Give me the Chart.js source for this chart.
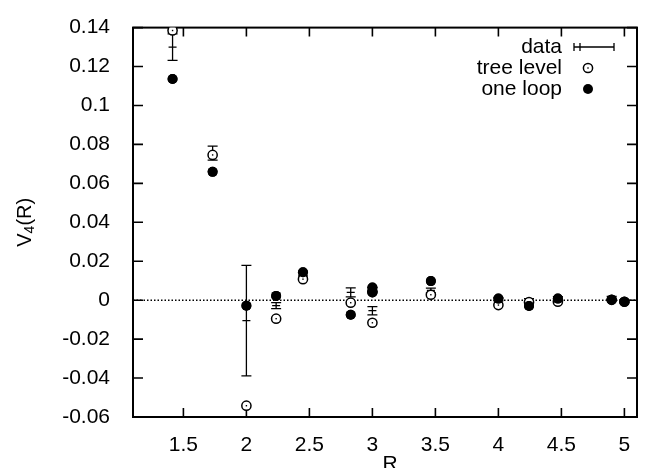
<!DOCTYPE html>
<html>
<head>
<meta charset="utf-8">
<script src="https://cdn.jsdelivr.net/npm/chart.js@4"></script>
<style>
  html, body { margin: 0; padding: 0; background: #fff; }
</style>
</head>
<body>
<canvas id="chart" width="655" height="468"></canvas>
<script>
// separations R (lattice distances)
const R = [1.414, 1.732, 2.0, 2.236, 2.449, 2.828, 3.0, 3.0, 3.464, 4.0, 4.243, 4.472, 4.899, 5.0];
// measured values and their errors
const dataV   = [0.1300, 0.0755, -0.0105, -0.0028, 0.0135, 0.0040, -0.0054, 0.0055, 0.0050, 0.0005, 0.0000, 0.0010, 0.0012, -0.0005];
const dataErr = [0.0068, 0.0036, 0.0284, 0.0015, 0.0010, 0.0023, 0.0021, 0.0010, 0.0012, 0.0008, 0.0008, 0.0008, 0.0008, 0.0008];
// tree level prediction
const treeV = [0.1385, 0.0746, -0.0542, -0.0095, 0.0108, -0.0013, -0.0116, 0.0045, 0.0028, -0.0025, -0.0010, -0.0008, 0.0002, -0.0008];
// one loop prediction
const loopV = [0.1136, 0.0659, -0.0028, 0.0022, 0.0143, -0.0075, 0.0065, 0.0040, 0.0098, 0.0008, -0.0030, 0.0008, 0.0002, -0.0008];

const xTicks = [1.5, 2, 2.5, 3, 3.5, 4, 4.5, 5];
const yTicks = [-0.06, -0.04, -0.02, 0, 0.02, 0.04, 0.06, 0.08, 0.1, 0.12, 0.14];

const FONT = '"Liberation Sans", Arial, Helvetica, sans-serif';

function errBar(ctx, x, y1, y2, yc, cap) {
    ctx.beginPath();
    ctx.moveTo(x, y1); ctx.lineTo(x, y2);
    ctx.moveTo(x - cap, y1); ctx.lineTo(x + cap, y1);
    ctx.moveTo(x - cap, y2); ctx.lineTo(x + cap, y2);
    ctx.moveTo(x - 4, yc); ctx.lineTo(x + 4, yc);
    ctx.stroke();
}

const framePlugin = {
    id: 'frame',
    beforeDatasetsDraw(chart) {
        const ctx = chart.ctx;
        const a = chart.chartArea;
        const xs = chart.scales.x, ys = chart.scales.y;
        ctx.save();
        ctx.strokeStyle = '#000';
        // zero line
        ctx.lineWidth = 1.4;
        ctx.setLineDash([1.5, 2]);
        const y0 = ys.getPixelForValue(0);
        ctx.beginPath();
        ctx.moveTo(a.left, y0); ctx.lineTo(a.right, y0);
        ctx.stroke();
        ctx.setLineDash([]);
        // inward ticks
        ctx.lineWidth = 1.6;
        ctx.beginPath();
        xTicks.forEach(v => {
            const x = xs.getPixelForValue(v);
            ctx.moveTo(x, a.bottom); ctx.lineTo(x, a.bottom - 9);
            ctx.moveTo(x, a.top); ctx.lineTo(x, a.top + 9);
        });
        yTicks.forEach(v => {
            const y = ys.getPixelForValue(v);
            ctx.moveTo(a.left, y); ctx.lineTo(a.left + 10, y);
            ctx.moveTo(a.right, y); ctx.lineTo(a.right - 10, y);
        });
        ctx.stroke();
        ctx.lineWidth = 2;
        ctx.strokeRect(a.left, a.top, a.right - a.left, a.bottom - a.top);
        // error bars
        ctx.beginPath();
        ctx.rect(a.left, a.top, a.right - a.left, a.bottom - a.top);
        ctx.clip();
        ctx.lineWidth = 1.3;
        R.forEach((r, i) => {
            const x = xs.getPixelForValue(r);
            errBar(ctx, x,
                ys.getPixelForValue(dataV[i] + dataErr[i]),
                ys.getPixelForValue(dataV[i] - dataErr[i]),
                ys.getPixelForValue(dataV[i]), 5);
        });
        ctx.restore();
    },
    afterDatasetsDraw(chart) {
        // centre dots of the open circles, under the filled ones
        const ctx = chart.ctx;
        const meta = chart.getDatasetMeta(1);
        const top = chart.getDatasetMeta(0);
        ctx.save();
        ctx.fillStyle = '#000';
        meta.data.forEach(p => ctx.fillRect(p.x - 0.7, p.y - 0.7, 1.4, 1.4));
        // redraw filled circles on top
        top.data.forEach(p => {
            ctx.beginPath();
            ctx.arc(p.x, p.y, 5, 0, Math.PI * 2);
            ctx.fill();
        });
        ctx.restore();
    },
    afterDraw(chart) {
        const ctx = chart.ctx;
        const a = chart.chartArea;
        ctx.save();
        ctx.fillStyle = '#000';
        ctx.strokeStyle = '#000';
        // legend
        ctx.font = '21px ' + FONT;
        ctx.textAlign = 'right';
        ctx.textBaseline = 'middle';
        const lx = 562;
        ctx.fillText('data', lx, 47);
        ctx.fillText('tree level', lx, 68);
        ctx.fillText('one loop', lx, 89);
        ctx.lineWidth = 1.3;
        ctx.beginPath();
        ctx.moveTo(574, 47); ctx.lineTo(614, 47);
        ctx.moveTo(574, 43); ctx.lineTo(574, 51);
        ctx.moveTo(614, 43); ctx.lineTo(614, 51);
        ctx.moveTo(580, 43); ctx.lineTo(580, 51);
        ctx.stroke();
        ctx.lineWidth = 1.5;
        ctx.beginPath();
        ctx.arc(588, 68, 4.6, 0, Math.PI * 2);
        ctx.stroke();
        ctx.fillRect(587.3, 67.3, 1.4, 1.4);
        ctx.beginPath();
        ctx.arc(588, 89, 5, 0, Math.PI * 2);
        ctx.fill();
        // axis titles
        ctx.textAlign = 'center';
        ctx.fillText('R', (a.left + a.right) / 2 + 5, 464);
        ctx.translate(25, (a.top + a.bottom) / 2);
        ctx.rotate(-Math.PI / 2);
        ctx.textAlign = 'left';
        ctx.font = '20px ' + FONT;
        const w1 = ctx.measureText('V').width;
        ctx.font = '14px ' + FONT;
        const w2 = ctx.measureText('4').width;
        ctx.font = '20px ' + FONT;
        const w3 = ctx.measureText('(R)').width;
        let x0 = -(w1 + w2 + w3) / 2;
        ctx.fillText('V', x0, 0);
        ctx.font = '14px ' + FONT;
        ctx.fillText('4', x0 + w1, 5);
        ctx.font = '20px ' + FONT;
        ctx.fillText('(R)', x0 + w1 + w2, 0);
        ctx.restore();
    }
};

const ctx = document.getElementById('chart').getContext('2d');
const chart = new Chart(ctx, {
    type: 'scatter',
    data: {
        datasets: [
            {
                label: 'one loop',
                data: R.map((r, i) => ({ x: r, y: loopV[i] })),
                pointStyle: 'circle',
                pointRadius: 5,
                backgroundColor: '#000',
                borderColor: '#000',
                borderWidth: 0
            },
            {
                label: 'tree level',
                data: R.map((r, i) => ({ x: r, y: treeV[i] })),
                pointStyle: 'circle',
                pointRadius: 4.6,
                backgroundColor: '#fff',
                borderColor: '#000',
                borderWidth: 1.5
            }
        ]
    },
    options: {
        responsive: false,
        animation: false,
        events: [],
        layout: { padding: { top: 15, right: 18, left: 0, bottom: 0 } },
        plugins: {
            legend: { display: false },
            tooltip: { enabled: false }
        },
        scales: {
            x: {
                type: 'linear',
                min: 1.1,
                max: 5.1,
                grid: { display: false },
                border: { display: false },
                afterBuildTicks: s => { s.ticks = xTicks.map(v => ({ value: v })); },
                afterFit: s => { s.height = 51; },
                ticks: {
                    color: '#000',
                    font: { family: FONT, size: 21 },
                    padding: 8,
                    maxRotation: 0,
                    callback: v => String(v)
                }
            },
            y: {
                min: -0.06,
                max: 0.14,
                grid: { display: false },
                border: { display: false },
                afterBuildTicks: s => { s.ticks = yTicks.map(v => ({ value: v })); },
                afterFit: s => { s.width = 133; },
                ticks: {
                    color: '#000',
                    font: { family: FONT, size: 21 },
                    padding: 15,
                    callback: v => String(+Number(v).toFixed(4))
                }
            }
        }
    },
    plugins: [framePlugin]
});
</script>
</body>
</html>
